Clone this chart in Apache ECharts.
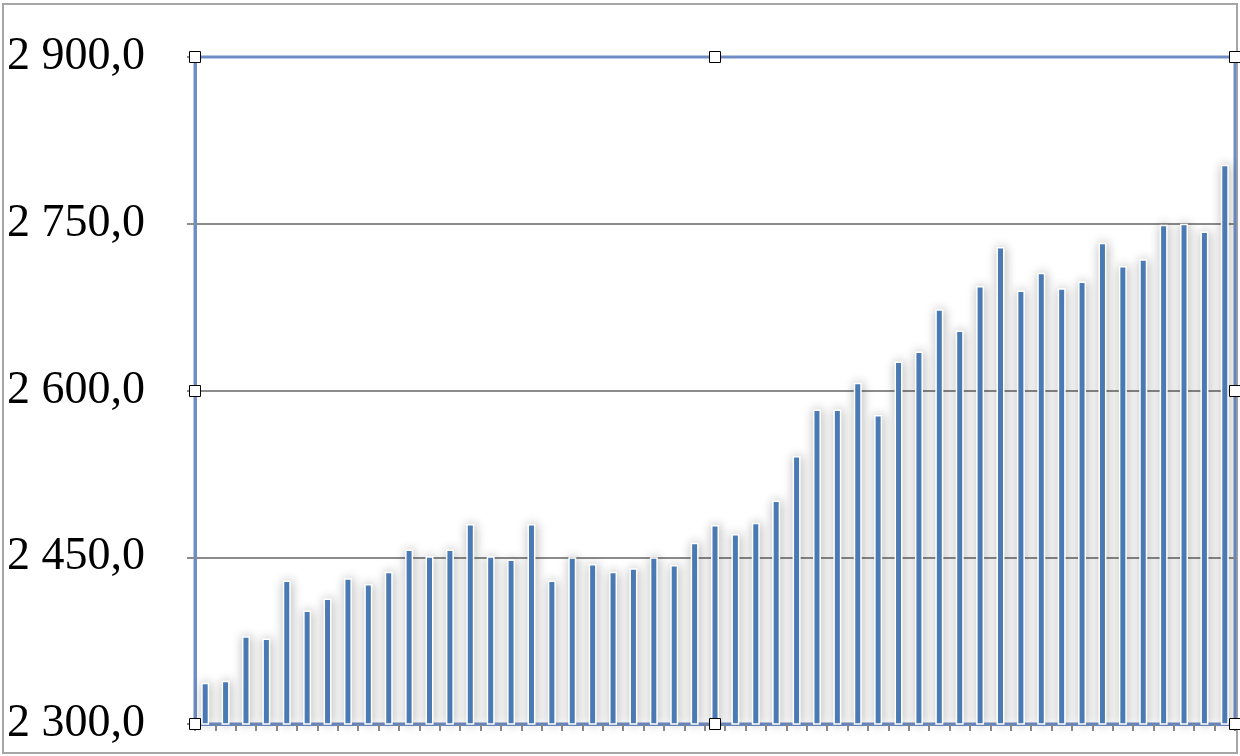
<!DOCTYPE html>
<html>
<head>
<meta charset="utf-8">
<script src="https://cdn.jsdelivr.net/npm/echarts@6/dist/echarts.min.js"></script>
<style>
html,body{margin:0;padding:0;background:#fff;}
#main{width:1240px;height:756px;}
</style>
</head>
<body>
<div id="main"></div>
<script>
// ---- data ----
const categories = ["1","2","3","4","5","6","7","8","9","10","11","12","13","14","15","16","17","18","19","20","21","22","23","24","25","26","27","28","29","30","31","32","33","34","35","36","37","38","39","40","41","42","43","44","45","46","47","48","49","50","51"];
const values = [2337,2339,2379,2377,2429,2402,2413,2431,2426,2437,2457,2451,2457,2480,2451,2448,2480,2429,2450,2444,2437,2440,2450,2443,2463,2479,2471,2481,2501,2541,2583,2583,2607,2578,2626,2635,2673,2654,2694,2729,2690,2706,2692,2698,2733,2712,2718,2749,2750,2743,2803];
const yTicks = [2300, 2450, 2600, 2750, 2900];

// ---- layout ----
const W = 1240, H = 756;
const G = {left:195, top:57, right:5, bottom:32};
const gx0 = G.left, gx1 = W - G.right, gy0 = G.top, gy1 = H - G.bottom;
const gxm = (gx0 + gx1) / 2, gym = (gy0 + gy1) / 2;

function fmt(v){
  const s = v.toFixed(1).split('.');
  const int = s[0].replace(/\B(?=(\d{3})+(?!\d))/g, ' ');
  return int + ',' + s[1];
}

const hs = 12;
const handlePts = [[gx0,gy0],[gxm,gy0],[gx1,gy0],[gx0,gym],[gx1,gym],[gx0,gy1],[gxm,gy1],[gx1,gy1]];
const handles = handlePts.map(p => ({
  type:'rect', z:100,
  shape:{x:Math.round(p[0]-hs/2)+0.5, y:Math.round(p[1]-hs/2)+0.5, width:hs-1, height:hs-1},
  style:{fill:'#fff', stroke:'#000', lineWidth:1}
}));

const chart = echarts.init(document.getElementById('main'), null, {renderer:'canvas'});
chart.setOption({
  animation:false,
  backgroundColor:'#fff',
  grid:{left:G.left, top:G.top, right:G.right, bottom:G.bottom, show:true, borderColor:'#6F8EC7', borderWidth:3, backgroundColor:'transparent'},
  xAxis:{
    type:'category', data:categories, boundaryGap:true,
    axisLine:{show:true, lineStyle:{color:'#6F8EC7', width:3}},
    axisTick:{show:true, interval:0, length:7, lineStyle:{color:'#8C8C8C', width:2}},
    axisLabel:{show:false},
    splitLine:{show:false}
  },
  yAxis:{
    type:'value', min:yTicks[0], max:yTicks[yTicks.length-1], interval:yTicks[1]-yTicks[0],
    axisLine:{show:true, lineStyle:{color:'#6F8EC7', width:3}},
    axisTick:{show:true, inside:false, length:8, lineStyle:{color:'#8C8C8C', width:2}},
    axisLabel:{margin:50, color:'#000', fontFamily:'Liberation Serif', fontSize:46, formatter:fmt},
    splitLine:{show:true, showMinLine:false, showMaxLine:false, lineStyle:{color:'#8C8C8C', width:2}}
  },
  series:[{
    type:'bar', data:values, barWidth:8,
    itemStyle:{color:'#4F81BD', borderColor:'#ffffff', borderWidth:1.5,
      shadowBlur:11, shadowColor:'rgba(0,0,0,0.28)', shadowOffsetX:1, shadowOffsetY:0}
  }],
  graphic:[
    {type:'rect', z:-1, silent:true, shape:{x:3, y:4, width:1234, height:749}, style:{fill:'none', stroke:'#A6A6A6', lineWidth:2}}
  ].concat(handles)
});
</script>
</body>
</html>
